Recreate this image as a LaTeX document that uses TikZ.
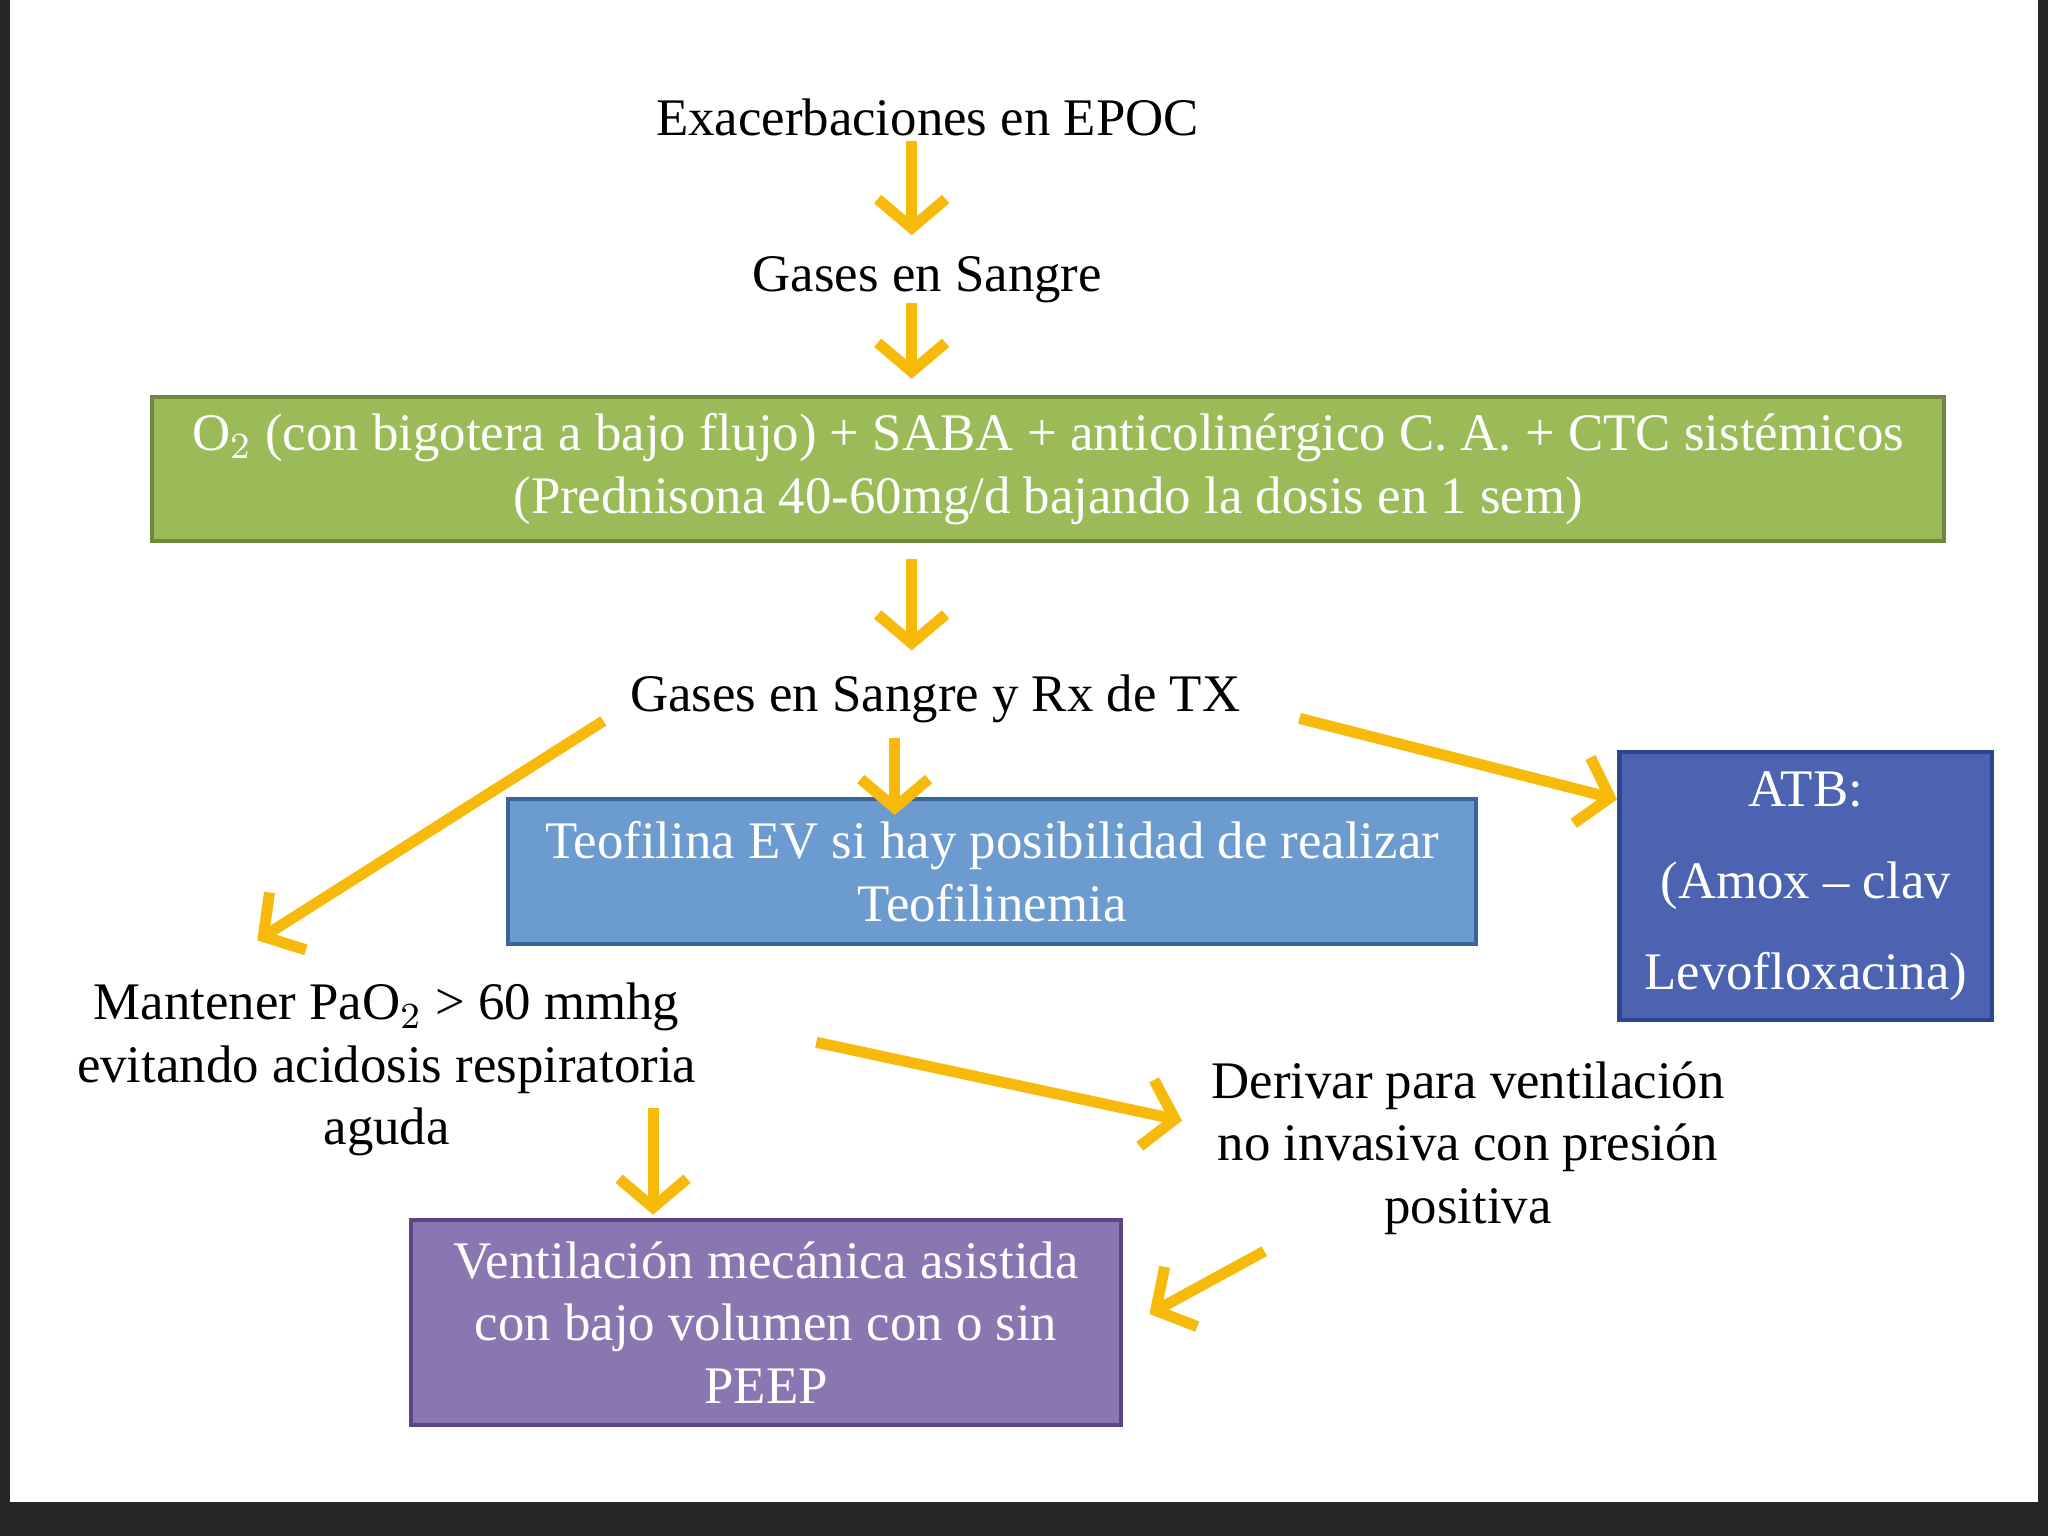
\documentclass[tikz,border=0pt]{standalone}
\usepackage{fontspec}
\setmainfont{Liberation Serif}
\usetikzlibrary{arrows.meta}
\definecolor{arr}{HTML}{F7BA0B}
\definecolor{gfill}{HTML}{9BBB59}\definecolor{gdraw}{HTML}{71893F}
\definecolor{bfill}{HTML}{6C9BCF}\definecolor{bdraw}{HTML}{3B6594}
\definecolor{afill}{HTML}{4B63B1}\definecolor{adraw}{HTML}{2D4590}
\definecolor{pfill}{HTML}{8A76B0}\definecolor{pdraw}{HTML}{5A4683}
\tikzset{
 txt/.style={font=\fontsize{11.5}{13.6}\selectfont, align=center, text=black},
 box/.style={txt, draw, line width=0.9pt, text=white, inner sep=0pt},
 yarr/.style={arr, line width=2.4pt, -{Straight Barb[length=2.2mm,width=5.2mm,line width=2.4pt]}}
}
\begin{document}
\begin{tikzpicture}[x=0.01cm,y=-0.01cm]
\fill[black!85] (0,0) rectangle (1568,1176);
\fill[white] (8,0) rectangle (1560,1150);
\useasboundingbox (0,0) rectangle (1568,1176);
\node[txt] (t1) at (710,90) {Exacerbaciones en EPOC};
\node[txt] (t2) at (710,214) {Gases en Sangre};
\node[box, fill=gfill, draw=gdraw, minimum width=13.71cm, minimum height=1.10cm] (g) at (802.5,359)
 {O$_2$ (con bigotera a bajo flujo) + SABA + anticolinérgico C. A. + CTC sistémicos\\(Prednisona 40-60mg/d bajando la dosis en 1 sem)};
\node[txt] (t3) at (716,535) {Gases en Sangre y Rx de TX};
\node[box, fill=bfill, draw=bdraw, minimum width=7.41cm, minimum height=1.11cm] (b) at (759.5,667.5)
 {Teofilina EV si hay posibilidad de realizar\\Teofilinemia};
\node[box, fill=afill, draw=adraw, minimum width=2.85cm, minimum height=2.05cm, font=\fontsize{11.5}{20}\selectfont] (a) at (1382.5,678.5)
 {ATB:\\(Amox -- clav\\Levofloxacina)};
\node[txt] (m) at (296,819) {Mantener PaO$_2$ > 60 mmhg\\evitando acidosis respiratoria\\aguda};
\node[box, fill=pfill, draw=pdraw, minimum width=5.43cm, minimum height=1.57cm] (p) at (586.5,1012.5)
 {Ventilación mecánica asistida\\con bajo volumen con o sin\\PEEP};
\node[txt] (d) at (1124,879) {Derivar para ventilación\\no invasiva con presión\\positiva};
\coordinate (c1) at (698,108); \coordinate (c2) at (698,180);
\coordinate (c3) at (698,232); \coordinate (c4) at (698,290);
\coordinate (c5) at (698,428); \coordinate (c6) at (698,498);
\coordinate (c7) at (685,565); \coordinate (c8) at (685,624);
\coordinate (c9) at (995,550); \coordinate (c10) at (1238,612);
\coordinate (c11) at (462,552); \coordinate (c12) at (197,720);
\coordinate (c13) at (500,848); \coordinate (c14) at (500,930);
\coordinate (c15) at (625,798); \coordinate (c16) at (905,858);
\coordinate (c17) at (968,958); \coordinate (c18) at (880,1006);
\foreach \s/\e in {c1/c2,c3/c4,c5/c6,c7/c8,c9/c10,c11/c12,c13/c14,c15/c16,c17/c18}
 \draw[yarr] (\s) -- (\e);
\end{tikzpicture}
\end{document}
